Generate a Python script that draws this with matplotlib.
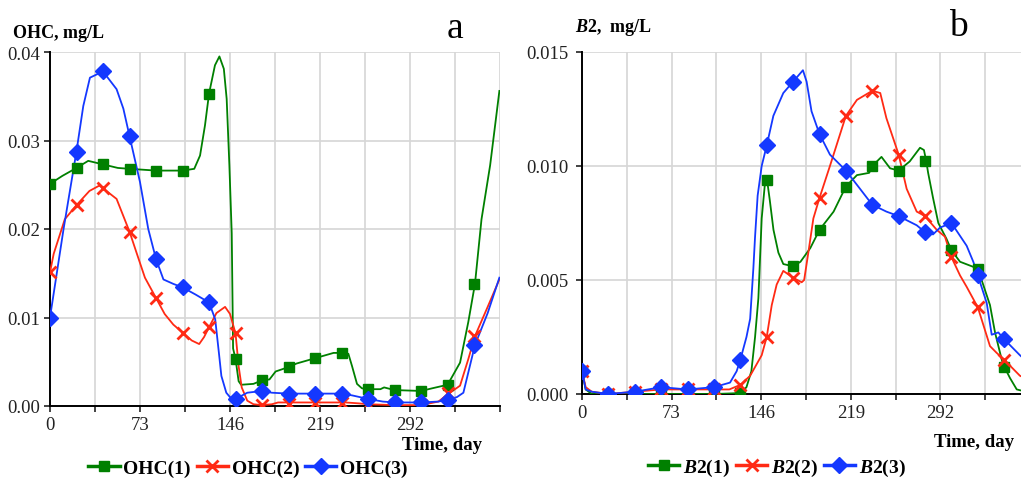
import numpy as np
import matplotlib.pyplot as plt
from matplotlib.lines import Line2D

plt.rcParams['font.family'] = ['Liberation Serif', 'DejaVu Serif']
plt.rcParams['mathtext.fontset'] = 'custom'
plt.rcParams['mathtext.it'] = 'Liberation Serif:italic:bold'
plt.rcParams['mathtext.rm'] = 'Liberation Serif:bold'

# marker positions (days), shared by all series
marker_days = [0, 21.5, 43, 64.5, 86, 107.5, 129, 150.5, 172, 193.5,
               215, 236.5, 258, 279.5, 301, 322.5, 344]

# ---- panel a: OHC ----
ohc1_days = [0, 10, 21.5, 31, 43, 55, 64.5, 86, 107.5, 117, 121.7, 125.7, 129,
             133.8, 137.4, 141, 143.3, 145.5, 147.4, 148.5, 150.5, 153, 155, 165,
             172, 178, 183, 193.5, 200, 215, 230, 236.5, 242, 245, 249, 253, 258,
             268, 271, 279.5, 301, 310, 322.5, 332.6, 339.3, 344.7, 350, 357, 364.5]
ohc1_vals = [0.0251, 0.0260, 0.0269, 0.0277, 0.0273, 0.0269, 0.0268, 0.0266, 0.0266,
             0.0268, 0.0283, 0.0317, 0.0353, 0.0385, 0.0395, 0.0381, 0.0347, 0.0272,
             0.0195, 0.0065, 0.0053, 0.0028, 0.0024, 0.0025, 0.0029, 0.0030, 0.0039,
             0.0044, 0.0048, 0.0054, 0.0060, 0.0060, 0.0059, 0.0045, 0.0025, 0.0020,
             0.0019, 0.0019, 0.0021, 0.0018, 0.0017, 0.0020, 0.0024, 0.0049, 0.0095,
             0.0138, 0.0211, 0.0272, 0.0356]
ohc1_marks = [0.0251, 0.0269, 0.0273, 0.0268, 0.0265, 0.0266, 0.0353, 0.0053, 0.0029,
              0.0044, 0.0054, 0.0060, 0.0019, 0.0018, 0.0017, 0.0024, 0.0138]

ohc2_days = [0, 3, 12, 21.5, 32, 40, 43, 54, 64.5, 70, 77, 86, 93, 100, 107.5, 115,
             121, 125, 129, 135, 142, 146, 150.5, 153, 155.5, 160, 165, 172, 180,
             185, 215, 240, 250, 258, 279.5, 301, 315, 322.5, 332.6, 339.3, 344.7,
             355, 364.5]
ohc2_vals = [0.0151, 0.0172, 0.0211, 0.0227, 0.0243, 0.0249, 0.0246, 0.0234, 0.0197,
             0.0174, 0.0145, 0.0122, 0.0104, 0.0092, 0.0083, 0.0074, 0.0070, 0.0078,
             0.0089, 0.0105, 0.0112, 0.0104, 0.0082, 0.0045, 0.0021, 0.0006, 0.0002,
             0.0001, 0.0002, 0.0004, 0.0004, 0.0004, 0.0003, 0.0002, 0.0001, 0.0001,
             0.0005, 0.0013, 0.0023, 0.0053, 0.0079, 0.0112, 0.0143]
ohc2_marks = [0.0151, 0.0227, 0.0246, 0.0197, 0.0122, 0.0082, 0.0089, 0.0082, 0.0001,
              0.0002, 0.0003, 0.0003, 0.0002, 0.0001, 0.0001, 0.0015, 0.0079]

ohc3_days = [0, 11, 21.5, 27, 32.4, 43, 54, 59.5, 64.5, 73, 79.7, 86, 92, 100, 107.5,
             118, 129, 134, 137, 139, 143, 146, 150.5, 160, 172, 180, 193.5, 215,
             236.5, 245, 258, 270, 279.5, 301, 315, 322.5, 330, 335.3, 340.7, 344.7,
             355, 364.5]
ohc3_vals = [0.0100, 0.0200, 0.0288, 0.0339, 0.0371, 0.0378, 0.0358, 0.0336, 0.0305,
             0.0253, 0.0200, 0.0166, 0.0143, 0.0138, 0.0134, 0.0126, 0.0117, 0.0098,
             0.0060, 0.0034, 0.0015, 0.0010, 0.0008, 0.0015, 0.0017, 0.0015, 0.0014,
             0.0014, 0.0014, 0.0012, 0.0008, 0.0005, 0.0004, 0.0004, 0.0005, 0.0007,
             0.0010, 0.0015, 0.0046, 0.0069, 0.0105, 0.0145]
ohc3_marks = [0.0100, 0.0287, 0.0378, 0.0305, 0.0166, 0.0134, 0.0117, 0.0008, 0.0017,
              0.0014, 0.0014, 0.0014, 0.0008, 0.0004, 0.0004, 0.0007, 0.0069]

# ---- panel b: B2 ----
b21_days = [0, 3, 8, 21.5, 43, 64.5, 86, 107.5, 129, 134, 138, 141, 143.7, 146.4, 149,
            150.5, 153, 156, 160, 164, 172, 178, 186, 193.5, 205, 215, 224, 234, 236.5,
            244, 251, 258, 267, 275.4, 278.6, 280.5, 282, 286, 290.3, 297, 301, 308,
            322.5, 332.4, 336.5, 342, 344, 348.7, 354.2, 358, 365]
b21_vals = [0.0010, 0.0002, 0.0000, 0.0000, 0.0000, 0.0000, 0.0000, 0.0000, 0.00004,
            0.0003, 0.0010, 0.0025, 0.0042, 0.0077, 0.0092, 0.0095, 0.0085, 0.0072,
            0.0062, 0.0057, 0.0056, 0.0058, 0.0064, 0.0072, 0.0080, 0.0091, 0.0096,
            0.0097, 0.0100, 0.0104, 0.0099, 0.0098, 0.0102, 0.0108, 0.0107, 0.0102,
            0.0097, 0.0086, 0.0075, 0.0068, 0.0063, 0.0058, 0.0055, 0.0039, 0.0027,
            0.0015, 0.0012, 0.0007, 0.0002, 0.00015, 0.0001]
b21_marks = [0.0010, 0.0000, 0.0000, 0.0000, 0.0000, 0.0000, 0.00004, 0.0094, 0.0056,
             0.0072, 0.0091, 0.0100, 0.0098, 0.0102, 0.0063, 0.0055, 0.0012]

b22_days = [0, 3, 8, 21.5, 43, 64.5, 86, 107.5, 120, 129, 137, 146.4, 150.5, 154.6,
            158.6, 164, 172, 179, 181, 184.4, 188.5, 193.5, 202, 215, 224, 236.5, 243,
            248, 258, 264.5, 272.7, 279.5, 289, 295.7, 301, 308, 313.4, 322.5, 332.4,
            337.9, 344, 356.8, 365]
b22_vals = [0.0010, 0.0003, 0.0001, 0.0000, 0.0001, 0.0002, 0.0002, 0.0002, 0.0002,
            0.0004, 0.0008, 0.0017, 0.0025, 0.0039, 0.0048, 0.0054, 0.0051, 0.0049,
            0.0050, 0.0062, 0.0077, 0.0086, 0.0100, 0.0122, 0.0129, 0.0133, 0.0132,
            0.0121, 0.0105, 0.0090, 0.0080, 0.0078, 0.0072, 0.0069, 0.0060, 0.0052,
            0.0047, 0.0038, 0.0021, 0.0018, 0.0015, 0.0008, 0.0006]
b22_marks = [0.0010, 0.0000, 0.0001, 0.0002, 0.0002, 0.0002, 0.0004, 0.0025, 0.0051,
             0.0086, 0.0122, 0.0133, 0.0105, 0.0078, 0.0060, 0.0038, 0.0015]

b23_days = [0, 3, 8, 21.5, 43, 64.5, 86, 107.5, 120.6, 126, 129, 134, 137, 139.6, 141,
            143.1, 146.4, 150.5, 155.9, 164, 172, 180, 183, 187, 193.5, 202, 215, 226.5,
            236.5, 248, 258, 272.7, 279.5, 286, 291.7, 301, 313.4, 318.8, 322.5, 329.7,
            333.8, 339.2, 344, 356.8, 365]
b23_vals = [0.0010, 0.0002, 0.0001, 0.0000, 0.0001, 0.0003, 0.0002, 0.0003, 0.0005,
            0.0010, 0.0015, 0.0025, 0.0033, 0.0055, 0.0069, 0.0087, 0.0100, 0.0109,
            0.0122, 0.0132, 0.0137, 0.0142, 0.0137, 0.0124, 0.0114, 0.0105, 0.0098,
            0.0090, 0.0083, 0.0080, 0.0078, 0.0074, 0.0071, 0.0070, 0.0073, 0.0075,
            0.0065, 0.0058, 0.0052, 0.0040, 0.0026, 0.0027, 0.0024, 0.0017, 0.0013]
b23_marks = [0.0010, 0.0000, 0.0001, 0.0003, 0.0002, 0.0003, 0.0015, 0.0109, 0.0137,
             0.0114, 0.0098, 0.0083, 0.0078, 0.0071, 0.0075, 0.0052, 0.0024]

GREEN = '#008000'
RED = '#ff2a14'
BLUE = '#1438ff'
styles = [(GREEN, 's', 7, 0), (RED, 'x', 9, 2.0), (BLUE, 'D', 8, 0)]


def draw_panel(ax, series, ymax, ystep, yfmt, labels, legend_x, legend_y):
    handles = []
    for (days, vals, marks), (color, mk, ms, mew), lab in zip(series, styles, labels):
        ax.plot(days, vals, color=color, lw=1.3, zorder=3)
        ax.plot(marker_days, marks, ls='none', marker=mk, ms=ms, color=color,
                mew=mew if mew else 1, zorder=4)
        handles.append(Line2D([], [], color=color, lw=2.5, marker=mk, ms=ms,
                              mew=mew if mew else 1, label=lab))
    ax.set_xlim(0, 365)
    ax.set_ylim(0, ymax)
    xt = np.arange(0, 366, 36.5)
    ax.set_xticks(xt)
    ax.set_xticklabels([f'{int(round(t))}' if i % 2 == 0 and t < 300 else ''
                        for i, t in enumerate(xt)])
    yt = np.arange(0, ymax + ystep / 2, ystep)
    ax.set_yticks(yt)
    ax.set_yticklabels([yfmt % v for v in yt])
    ax.grid(True, color='#d6d6d6', lw=1.2)
    ax.set_axisbelow(True)
    for s in ['top', 'right']:
        ax.spines[s].set_visible(False)
    for s in ['left', 'bottom']:
        ax.spines[s].set_linewidth(1.4)
    ax.tick_params(labelsize=13.5, length=4, width=1.2, colors='#222222', pad=3)
    fig.legend(handles=handles, loc='center', bbox_to_anchor=(legend_x, legend_y),
               ncol=3, frameon=False, handlelength=1.6, handletextpad=0.2,
               columnspacing=0.3, prop={'size': 14, 'weight': 'bold'})


fig = plt.figure(figsize=(10.21, 4.85), dpi=100)

ax1 = fig.add_axes([50 / 1021, 78 / 485, 450 / 1021, 354 / 485])
draw_panel(ax1, [(ohc1_days, ohc1_vals, ohc1_marks),
                 (ohc2_days, ohc2_vals, ohc2_marks),
                 (ohc3_days, ohc3_vals, ohc3_marks)],
           0.04, 0.01, '%.2f', ['OHC(1)', 'OHC(2)', 'OHC(3)'], 0.243, 0.032)

ax2 = fig.add_axes([582 / 1021, 90 / 485, 448 / 1021, 342 / 485])
draw_panel(ax2, [(b21_days, b21_vals, b21_marks),
                 (b22_days, b22_vals, b22_marks),
                 (b23_days, b23_vals, b23_marks)],
           0.015, 0.005, '%.3f', [r'$\mathit{B2}$(1)', r'$\mathit{B2}$(2)', r'$\mathit{B2}$(3)'],
           0.761, 0.034)
ax2.tick_params(axis='y', pad=6)

fig.text(13 / 1021, 1 - 33 / 485, 'OHC, mg/L', fontsize=13, fontweight='bold',
         va='center', ha='left')
fig.text(575 / 1021, 1 - 28 / 485, r'$\mathit{B2}$,  mg/L', fontsize=13, fontweight='bold',
         va='center', ha='left')
fig.text(455 / 1021, 1 - 29 / 485, 'a', fontsize=27, ha='center', va='center')
fig.text(958 / 1021, 1 - 27 / 485, 'b', fontsize=27, ha='center', va='center')
fig.text(482 / 1021, 1 - 446 / 485, 'Time, day', fontsize=13.5, fontweight='bold',
         ha='right', va='center')
fig.text(1014 / 1021, 1 - 443 / 485, 'Time, day', fontsize=13.5, fontweight='bold',
         ha='right', va='center')

fig.savefig('out.png', dpi=100)
